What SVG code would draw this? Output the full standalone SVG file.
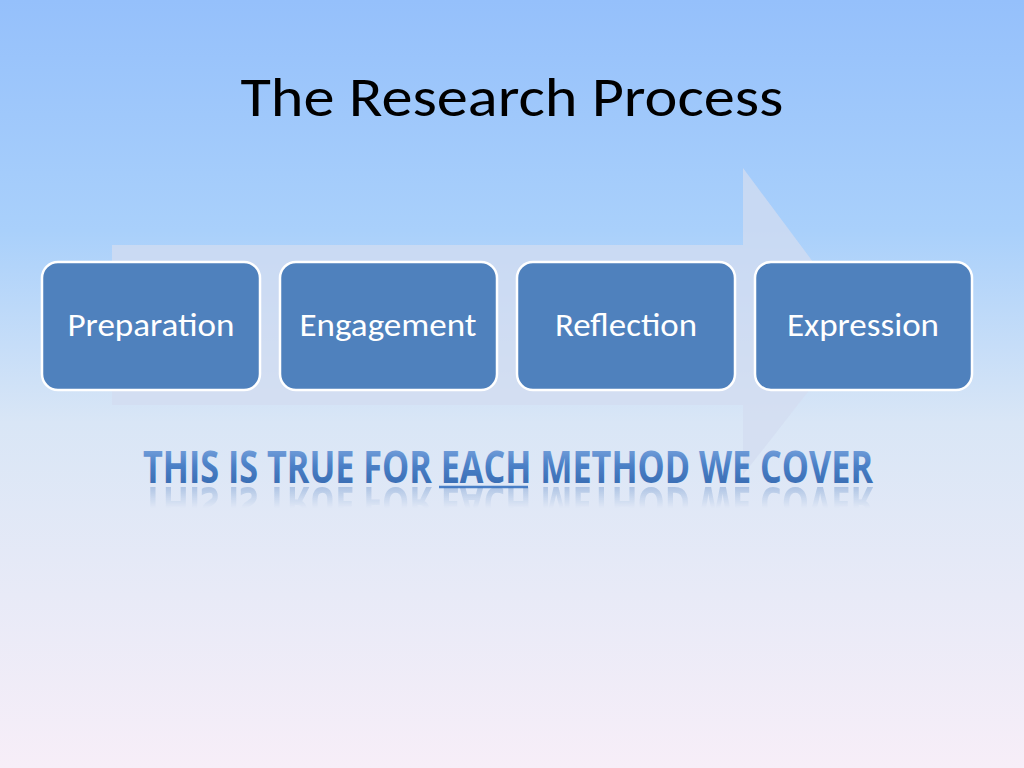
<svg xmlns="http://www.w3.org/2000/svg" width="1024" height="768" viewBox="0 0 1024 768">
<defs>
<linearGradient id="bg" x1="0" y1="0" x2="0" y2="1">
<stop offset="0" stop-color="#95c0fb"/><stop offset="0.3" stop-color="#a9d0fb"/><stop offset="0.55" stop-color="#d9e6f6"/><stop offset="1" stop-color="#f7eef8"/>
</linearGradient>
<linearGradient id="tg" x1="0" y1="0" x2="0" y2="1">
<stop offset="0" stop-color="#8fb4e8"/><stop offset="0.5" stop-color="#4a7fc6"/><stop offset="1" stop-color="#2f62a8"/>
</linearGradient>
<linearGradient id="rg" x1="0" y1="0" x2="0" y2="1">
<stop offset="0" stop-color="#fff" stop-opacity="0.6"/><stop offset="1" stop-color="#fff" stop-opacity="0"/>
</linearGradient>
<mask id="rm"><rect x="0" y="486" width="1024" height="22" fill="url(#rg)"/></mask>
<style>
.box{fill:#4f81bd;stroke:#fff;stroke-width:2.5}
.lbl{font-family:Calibri,Carlito,"Open Sans",sans-serif;font-size:33px;fill:#fff;text-anchor:middle}
.big{font-family:"Open Sans",sans-serif;font-weight:bold;font-size:44px;fill:url(#tg)}
</style>
</defs>
<rect width="1024" height="768" fill="url(#bg)"/>
<text x="512" y="116" text-anchor="middle" font-family="Calibri,Carlito,'Open Sans',sans-serif" font-size="56" fill="#000" textLength="543" lengthAdjust="spacingAndGlyphs">The Research Process</text>
<polygon points="112,245 743,245 743,168 860,325 743,475 743,405 112,405" fill="#d3dcf0" opacity="0.75"/>
<g id="preparation"><rect class="box" x="42" y="262" width="218" height="128" rx="16"/><text class="lbl" x="151" y="336" textLength="167" lengthAdjust="spacingAndGlyphs">Preparation</text></g>
<g id="engagement"><rect class="box" x="280" y="262" width="217" height="128" rx="16"/><text class="lbl" x="388" y="336" textLength="177" lengthAdjust="spacingAndGlyphs">Engagement</text></g>
<g id="reflection"><rect class="box" x="517" y="262" width="218" height="128" rx="16"/><text class="lbl" x="626" y="336" textLength="142" lengthAdjust="spacingAndGlyphs">Reflection</text></g>
<g id="expression"><rect class="box" x="755" y="262" width="217" height="128" rx="16"/><text class="lbl" x="863" y="336" textLength="152" lengthAdjust="spacingAndGlyphs">Expression</text></g>
<g id="connectors"/>
<text class="big" x="143" y="483" textLength="730" lengthAdjust="spacingAndGlyphs">THIS IS TRUE FOR EACH METHOD WE COVER</text>
<line x1="439" y1="487" x2="528" y2="487" stroke="#4a7fc6" stroke-width="2.5"/>
<g mask="url(#rm)"><text class="big" x="143" y="-487" transform="scale(1,-1)" textLength="730" lengthAdjust="spacingAndGlyphs" opacity="0.5">THIS IS TRUE FOR EACH METHOD WE COVER</text></g>
</svg>
